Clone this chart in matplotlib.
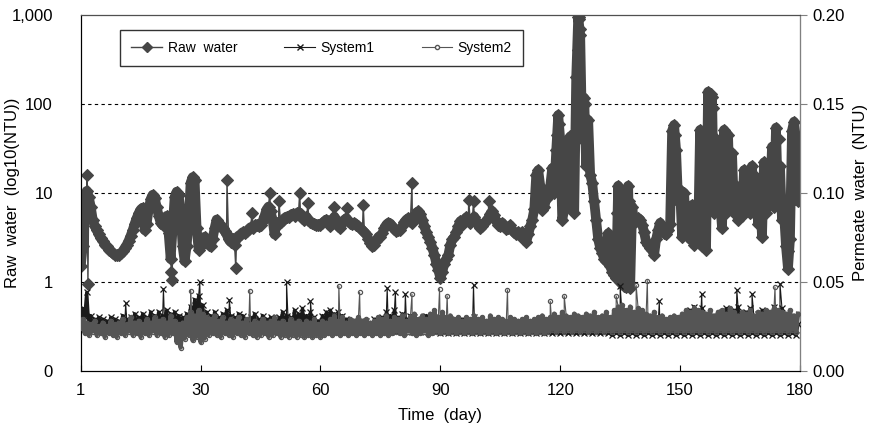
import numpy as np
import matplotlib
matplotlib.use("Agg")
import matplotlib.pyplot as plt
from matplotlib.lines import Line2D
from matplotlib.ticker import FixedLocator, NullLocator

plt.rcParams['font.family'] = ['Liberation Sans', 'DejaVu Sans']

# raw water turbidity (NTU), one reading every half day from day 0
raw_ntu = [
    1.5, 2.5, 6, 10.5, 9, 7, 5, 4.2, 3.8, 3.4,
    3.1, 2.9, 2.6, 2.5, 2.3, 2.2, 2.1, 2.0, 2.0, 2.0,
    2.1, 2.2, 2.4, 2.6, 2.9, 3.3, 3.8, 4.5, 5.2, 5.9,
    6.5, 6.8, 3.8, 4.5, 6.5, 8.5, 9.5, 8.8, 7.0, 5.5,
    4.6, 4.3, 5.2, 5.5, 3.5, 1.8, 4.0, 9.0, 10.3, 9.5,
    6.0, 2.5, 1.7, 2.5, 5.0, 13, 15, 14, 4.0, 2.3,
    2.5, 3.0, 3.2, 2.8, 2.6, 2.5, 3.0, 4.0, 5.0, 4.6,
    4.2, 4.0, 3.7, 3.4, 3.0, 2.8, 3.0, 2.6, 3.1, 3.3,
    3.4, 3.6, 3.5, 3.7, 3.9, 4.1, 4.0, 4.3, 4.4, 4.2,
    4.3, 4.8, 5.5, 6.5, 7.0, 6.2, 5.0, 3.4, 4.6, 4.5,
    4.7, 4.9, 5.2, 5.4, 5.3, 5.6, 5.8, 5.5, 5.9, 6.0,
    5.8, 5.2, 5.0, 5.4, 5.0, 4.7, 4.6, 4.5, 4.4, 4.4,
    4.4, 4.6, 4.8, 5.0, 4.7, 4.2, 5.0, 5.4, 4.8, 4.2,
    4.0, 4.6, 5.0, 5.2, 4.8, 4.6, 4.5, 4.6, 4.4, 4.2,
    4.0, 3.8, 3.6, 3.4, 3.0, 2.7, 2.5, 2.6, 2.9, 3.2,
    3.2, 3.5, 4.0, 4.4, 4.6, 4.5, 4.2, 3.9, 3.7, 3.8,
    3.8, 4.2, 4.7, 5.0, 5.2, 4.8, 4.6, 5.2, 6.0, 6.2,
    5.8, 5.0, 4.2, 3.6, 3.2, 2.8, 2.4, 2.0, 1.6, 1.35,
    1.1, 1.3, 1.6, 1.8, 2.0, 2.6, 3.0, 3.2, 3.6, 4.2,
    4.8, 4.4, 5.0, 5.3, 4.9, 4.6, 5.0, 5.4, 4.8, 4.4,
    4.0, 4.2, 4.6, 4.8, 5.2, 5.8, 6.2, 5.6, 4.8, 4.4,
    4.2, 4.6, 4.2, 3.9, 4.0, 4.3, 3.8, 3.6, 3.4, 3.6,
    3.3, 3.6, 3.2, 2.8, 3.4, 4.2, 5.0, 6.5, 16, 18,
    12, 6.4, 7.0, 8.5, 9.0, 12, 19, 10, 30, 75,
    40, 5.0, 6.4, 7.0, 20, 43, 38, 6.0, 200, 950,
    600, 40, 117, 20, 66, 16, 13, 8.0, 5.0, 3.0,
    2.4, 2.1, 1.8, 1.7, 3.5, 1.5, 1.3, 1.2, 1.1, 12,
    1.0, 0.95, 0.9, 0.88, 12, 0.85, 7.0, 4.6, 4.8, 5.2,
    5.0, 4.4, 3.6, 2.8, 2.6, 2.4, 2.3, 2.0, 3.0, 3.8,
    4.6, 4.0, 3.5, 3.4, 3.8, 4.5, 50, 58, 30, 8.0,
    10.8, 3.2, 10, 3.5, 6.0, 3.0, 7.3, 2.6, 5.0, 3.0,
    51, 2.5, 45, 2.3, 137, 8.0, 120, 6.0, 40, 10,
    8.0, 4.0, 51, 6.0, 45, 7.0, 28, 6.0, 12, 5.0,
    10, 5.5, 18, 8.0, 12, 6.0, 20, 6.0, 15, 4.5,
    10, 3.2, 22, 6.0, 18, 8.0, 33, 7.0, 54, 8.0,
    20, 5.0, 6.0, 2.5, 1.4, 3.0, 50, 63, 40, 8.0,
]

# odd readings between the half-day samples
raw_extra_day = [1.6, 1.8, 22.7, 22.9, 36.6, 38.8, 42.9, 47.3, 49.6, 54.8,
                 56.9, 63.3, 66.7, 70.7, 82.9, 97.1, 98.3, 102.1, 114.3, 119.3,
                 119.7, 122.3, 124.2, 124.35, 124.6, 124.75, 124.9, 126.3, 134.3, 137.2,
                 148.2, 148.7, 157.2, 157.7, 158.3, 161.3, 174.7, 176.7, 176.9, 178.2,
                 178.8]
raw_extra_ntu = [16, 0.95, 1.3, 1.05, 13.8, 1.43, 6.0, 10, 8.0, 10,
                 7.7, 7.0, 6.8, 7.3, 13, 8.3, 8.0, 8.0, 12, 45,
                 60, 30, 80, 400, 950, 900, 700, 100, 6.0, 8.0,
                 20, 45, 70, 130, 90, 30, 40, 4.0, 2.2, 30,
                 45]

# permeate turbidity (NTU), half-day readings
system1 = [
    0.027, 0.035, 0.030, 0.044, 0.025, 0.031, 0.023, 0.029, 0.024, 0.030,
    0.025, 0.029, 0.023, 0.028, 0.024, 0.030, 0.025, 0.029, 0.023, 0.028,
    0.024, 0.031, 0.025, 0.029, 0.024, 0.030, 0.025, 0.032, 0.024, 0.030,
    0.025, 0.032, 0.026, 0.030, 0.024, 0.033, 0.025, 0.031, 0.026, 0.033,
    0.025, 0.031, 0.026, 0.034, 0.025, 0.032, 0.026, 0.033, 0.024, 0.031,
    0.023, 0.030, 0.024, 0.032, 0.025, 0.036, 0.026, 0.040, 0.027, 0.042,
    0.025, 0.037, 0.024, 0.033, 0.023, 0.031, 0.024, 0.033, 0.023, 0.030,
    0.024, 0.032, 0.025, 0.034, 0.024, 0.031, 0.023, 0.030, 0.024, 0.032,
    0.023, 0.031, 0.024, 0.029, 0.023, 0.030, 0.024, 0.032, 0.023, 0.029,
    0.024, 0.031, 0.023, 0.029, 0.024, 0.030, 0.023, 0.028, 0.024, 0.030,
    0.023, 0.033, 0.024, 0.031, 0.023, 0.030, 0.024, 0.034, 0.023, 0.032,
    0.024, 0.035, 0.023, 0.031, 0.024, 0.033, 0.023, 0.030, 0.022, 0.028,
    0.023, 0.031, 0.024, 0.033, 0.023, 0.034, 0.024, 0.032, 0.023, 0.033,
    0.024, 0.031, 0.023, 0.029, 0.022, 0.028, 0.023, 0.027, 0.022, 0.028,
    0.023, 0.027, 0.022, 0.028, 0.023, 0.027, 0.022, 0.029, 0.023, 0.028,
    0.022, 0.030, 0.023, 0.033, 0.022, 0.031, 0.023, 0.034, 0.022, 0.030,
    0.023, 0.032, 0.022, 0.029, 0.023, 0.031, 0.022, 0.030, 0.023, 0.028,
    0.022, 0.029, 0.023, 0.031, 0.022, 0.028, 0.023, 0.030, 0.022, 0.029,
    0.021, 0.028, 0.022, 0.027, 0.021, 0.029, 0.022, 0.027, 0.021, 0.028,
    0.022, 0.029, 0.021, 0.027, 0.022, 0.028, 0.021, 0.030, 0.022, 0.027,
    0.021, 0.026, 0.022, 0.028, 0.021, 0.027, 0.022, 0.026, 0.021, 0.027,
    0.022, 0.026, 0.021, 0.027, 0.022, 0.026, 0.021, 0.025, 0.022, 0.027,
    0.021, 0.026, 0.022, 0.025, 0.021, 0.027, 0.022, 0.026, 0.021, 0.025,
    0.022, 0.026, 0.021, 0.027, 0.022, 0.025, 0.021, 0.026, 0.022, 0.027,
    0.021, 0.025, 0.022, 0.027, 0.021, 0.026, 0.022, 0.028, 0.021, 0.025,
    0.022, 0.026, 0.021, 0.025, 0.022, 0.027, 0.021, 0.024, 0.022, 0.026,
    0.021, 0.025, 0.022, 0.027, 0.021, 0.026, 0.020, 0.028, 0.021, 0.030,
    0.020, 0.031, 0.021, 0.028, 0.020, 0.027, 0.021, 0.026, 0.020, 0.025,
    0.021, 0.024, 0.020, 0.026, 0.021, 0.025, 0.020, 0.024, 0.021, 0.026,
    0.020, 0.025, 0.021, 0.024, 0.020, 0.026, 0.021, 0.025, 0.020, 0.024,
    0.021, 0.028, 0.020, 0.031, 0.021, 0.034, 0.020, 0.036, 0.021, 0.033,
    0.020, 0.035, 0.021, 0.032, 0.020, 0.030, 0.021, 0.029, 0.020, 0.031,
    0.021, 0.033, 0.020, 0.035, 0.021, 0.032, 0.020, 0.034, 0.021, 0.036,
    0.020, 0.031, 0.021, 0.033, 0.020, 0.035, 0.021, 0.030, 0.020, 0.032,
    0.021, 0.034, 0.020, 0.031, 0.021, 0.033, 0.020, 0.036, 0.021, 0.034,
    0.020, 0.035, 0.021, 0.030, 0.020, 0.028, 0.021, 0.027, 0.020, 0.026,
]
system2 = [
    0.024, 0.029, 0.021, 0.027, 0.020, 0.026, 0.022, 0.028, 0.020, 0.025,
    0.021, 0.027, 0.019, 0.025, 0.021, 0.028, 0.020, 0.026, 0.019, 0.027,
    0.021, 0.029, 0.020, 0.026, 0.022, 0.030, 0.020, 0.027, 0.021, 0.028,
    0.019, 0.026, 0.021, 0.029, 0.020, 0.027, 0.022, 0.030, 0.020, 0.028,
    0.021, 0.029, 0.019, 0.027, 0.020, 0.031, 0.021, 0.028, 0.016, 0.026,
    0.013, 0.027, 0.018, 0.030, 0.020, 0.033, 0.017, 0.031, 0.019, 0.034,
    0.016, 0.032, 0.018, 0.030, 0.020, 0.029, 0.021, 0.031, 0.020, 0.028,
    0.019, 0.030, 0.021, 0.027, 0.020, 0.029, 0.019, 0.028, 0.021, 0.030,
    0.020, 0.027, 0.019, 0.029, 0.021, 0.026, 0.020, 0.028, 0.019, 0.027,
    0.020, 0.029, 0.021, 0.027, 0.019, 0.028, 0.020, 0.030, 0.021, 0.027,
    0.019, 0.028, 0.020, 0.026, 0.019, 0.029, 0.020, 0.027, 0.019, 0.028,
    0.020, 0.026, 0.019, 0.028, 0.020, 0.027, 0.019, 0.029, 0.020, 0.026,
    0.019, 0.028, 0.020, 0.027, 0.021, 0.029, 0.020, 0.031, 0.021, 0.028,
    0.020, 0.030, 0.021, 0.027, 0.020, 0.029, 0.021, 0.028, 0.020, 0.030,
    0.021, 0.028, 0.020, 0.029, 0.021, 0.027, 0.020, 0.028, 0.021, 0.030,
    0.020, 0.029, 0.021, 0.031, 0.020, 0.028, 0.021, 0.030, 0.022, 0.029,
    0.021, 0.031, 0.020, 0.028, 0.022, 0.030, 0.021, 0.032, 0.020, 0.029,
    0.021, 0.031, 0.022, 0.029, 0.020, 0.032, 0.021, 0.034, 0.022, 0.030,
    0.021, 0.033, 0.022, 0.030, 0.021, 0.031, 0.022, 0.029, 0.021, 0.030,
    0.022, 0.028, 0.021, 0.030, 0.022, 0.029, 0.021, 0.031, 0.022, 0.029,
    0.021, 0.030, 0.022, 0.028, 0.021, 0.031, 0.022, 0.029, 0.021, 0.030,
    0.022, 0.029, 0.021, 0.028, 0.022, 0.030, 0.021, 0.029, 0.022, 0.028,
    0.021, 0.029, 0.022, 0.030, 0.021, 0.028, 0.022, 0.029, 0.021, 0.030,
    0.022, 0.031, 0.021, 0.029, 0.022, 0.030, 0.023, 0.032, 0.022, 0.030,
    0.023, 0.033, 0.022, 0.031, 0.023, 0.030, 0.022, 0.032, 0.023, 0.031,
    0.022, 0.030, 0.023, 0.032, 0.022, 0.031, 0.023, 0.033, 0.022, 0.030,
    0.023, 0.031, 0.022, 0.033, 0.023, 0.030, 0.022, 0.034, 0.023, 0.036,
    0.022, 0.037, 0.023, 0.034, 0.022, 0.036, 0.023, 0.033, 0.022, 0.035,
    0.023, 0.034, 0.022, 0.032, 0.023, 0.031, 0.022, 0.033, 0.023, 0.030,
    0.022, 0.031, 0.023, 0.029, 0.022, 0.030, 0.023, 0.031, 0.022, 0.030,
    0.023, 0.032, 0.022, 0.034, 0.023, 0.033, 0.022, 0.035, 0.023, 0.034,
    0.022, 0.033, 0.023, 0.032, 0.022, 0.034, 0.023, 0.031, 0.022, 0.033,
    0.023, 0.034, 0.022, 0.032, 0.023, 0.035, 0.022, 0.033, 0.023, 0.031,
    0.022, 0.033, 0.023, 0.032, 0.022, 0.034, 0.023, 0.031, 0.022, 0.033,
    0.023, 0.032, 0.022, 0.034, 0.023, 0.033, 0.022, 0.035, 0.023, 0.034,
    0.022, 0.033, 0.023, 0.032, 0.022, 0.034, 0.023, 0.031, 0.022, 0.032,
]

s1_extra_day = [11.25, 20.7, 29.8, 37.2, 51.5, 57.5, 76.7, 78.75, 81.25, 98.3,
                135.0, 144.8, 155.4, 164.2, 168.0, 175.0]
s1_extra_ntu = [0.038, 0.046, 0.050, 0.040, 0.050, 0.039, 0.0465, 0.044, 0.043, 0.048,
                0.0476, 0.039, 0.043, 0.0455, 0.043, 0.049]
s2_extra_day = [27.5, 42.3, 64.6, 69.8, 82.9, 89.8, 91.7, 106.8, 117.5, 121.0,
                134.0, 139.0, 141.8, 173.75]
s2_extra_ntu = [0.045, 0.045, 0.0476, 0.044, 0.043, 0.046, 0.042, 0.0454, 0.039, 0.042,
                0.042, 0.048, 0.0506, 0.047]


def half_days(values):
    return np.arange(len(values)) * 0.5


def merge(values, extra_day, extra_val):
    d = np.concatenate([half_days(values), extra_day])
    v = np.concatenate([values, extra_val])
    order = np.argsort(d, kind="stable")
    return d[order], v[order]


def main():
    fig = plt.figure(figsize=(8.7, 4.28), dpi=100)
    ax = fig.add_axes([0.0928, 0.134, 0.8267, 0.831])
    ax2 = ax.twinx()

    rx, ry = merge(raw_ntu, raw_extra_day, raw_extra_ntu)
    x1, y1 = merge(system1, s1_extra_day, s1_extra_ntu)
    x2, y2 = merge(system2, s2_extra_day, s2_extra_ntu)

    raw_col = '#464646'
    s1_col = '#1a1a1a'
    s2_col = '#555555'

    # regular readings as a heavy trace, the full record with markers on top
    ax.plot(half_days(raw_ntu), raw_ntu, color=raw_col, linewidth=7,
            solid_capstyle='round', solid_joinstyle='round', zorder=3)
    ax.plot(rx, ry, color=raw_col, linewidth=1.0, marker='D', markersize=6.5,
            markeredgewidth=0.8, markeredgecolor=raw_col, zorder=3)

    ax2.plot(half_days(system1), system1, color=s1_col, linewidth=2.4,
             solid_joinstyle='round', zorder=3)
    ax2.plot(x1, y1, color=s1_col, linewidth=0.8, marker='x', markersize=4.5,
             markeredgewidth=0.9, zorder=3)
    ax2.plot(half_days(system2), system2, color=s2_col, linewidth=3.2,
             solid_joinstyle='round', zorder=4)
    ax2.plot(x2, y2, color=s2_col, linewidth=0.8, marker='o', markersize=3,
             markerfacecolor='none', markeredgecolor=s2_col,
             markeredgewidth=0.9, zorder=4)

    ax.set_yscale('log')
    ax.set_ylim(0.1, 1000)
    ax.yaxis.set_major_locator(FixedLocator([0.1, 1, 10, 100, 1000]))
    ax.yaxis.set_minor_locator(NullLocator())
    ax.set_yticklabels(['0', '1', '10', '100', '1,000'])
    for level in [1, 10, 100]:
        ax.axhline(level, color='black', linewidth=0.8, linestyle=(0, (3, 3)),
                   zorder=1)

    ax2.set_ylim(0, 0.20)
    ax2.set_yticks([0.00, 0.05, 0.10, 0.15, 0.20])
    ax2.set_yticklabels(['0.00', '0.05', '0.10', '0.15', '0.20'])

    ax.set_xlim(0, 180)
    ax.set_xticks([0, 30, 60, 90, 120, 150, 180])
    ax.set_xticklabels(['1', '30', '60', '90', '120', '150', '180'])

    ax.tick_params(axis='x', direction='in', length=4, labelsize=12, pad=9)
    ax.tick_params(axis='y', direction='in', length=0, labelsize=12, pad=20)
    ax2.tick_params(axis='y', direction='out', length=5, labelsize=12, pad=4,
                    color='#808080')

    ax.set_xlabel('Time  (day)', fontsize=12, labelpad=7)
    ax.set_ylabel('Raw  water  (log10(NTU))', fontsize=12)
    ax.yaxis.set_label_coords(-0.085, 0.5)
    ax2.set_ylabel('Permeate  water  (NTU)', fontsize=12, labelpad=6)

    ax2.spines['top'].set_color('#505050')
    ax2.spines['right'].set_color('#808080')
    ax2.spines['left'].set_color('black')
    ax2.spines['bottom'].set_color('black')

    handles = [
        Line2D([], [], color=raw_col, marker='D', markersize=5, linewidth=1.0),
        Line2D([], [], color=s1_col, marker='x', markersize=4, linewidth=0.8),
        Line2D([], [], color=s2_col, marker='o', markersize=3,
               markerfacecolor='white', linewidth=0.8),
    ]
    leg = ax2.legend(handles, ['Raw  water', 'System1', 'System2'], ncol=3,
                     loc='upper left', bbox_to_anchor=(0.055, 0.958),
                     borderaxespad=0, fontsize=10, handlelength=2.2,
                     columnspacing=3.4, handletextpad=0.4, borderpad=0.8,
                     frameon=True, fancybox=False)
    leg.get_frame().set_edgecolor('black')
    leg.get_frame().set_linewidth(1.0)

    fig.savefig('out.png', dpi=100)


if __name__ == '__main__':
    main()
